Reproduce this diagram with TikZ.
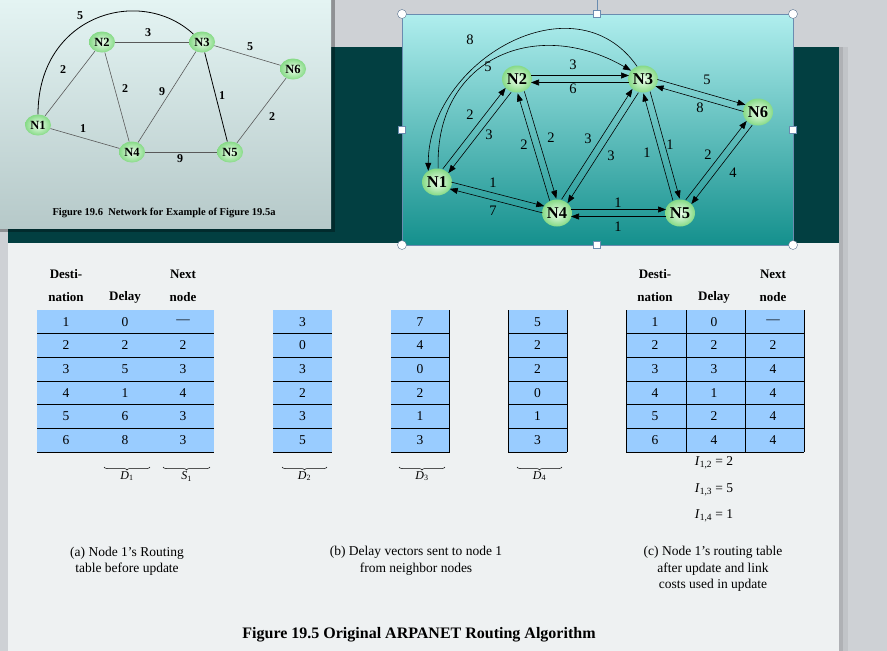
\documentclass[tikz,border=0pt]{standalone}
\usepackage{fontspec}
\setmainfont{Liberation Serif}
\usetikzlibrary{calc,arrows.meta,shapes.geometric,decorations.pathreplacing}

\definecolor{deskgray}{HTML}{CED1D5}
\definecolor{slidelight}{HTML}{EEF1F2}
\definecolor{darkteal}{HTML}{023F41}
\definecolor{cellblue}{HTML}{99CCFF}
\definecolor{frameblue}{HTML}{6A8CB0}
\definecolor{paletop}{HTML}{E4F4F3}
\definecolor{palebot}{HTML}{B6C9C9}
\definecolor{cyantop}{HTML}{B0EEEE}
\definecolor{cyanbot}{HTML}{14908D}
\definecolor{ballin}{HTML}{EEFFEE}
\definecolor{ballout}{HTML}{86DA86}

\tikzset{
  router/.style={ellipse, shading=radial, inner color=ballin, outer color=ballout,
    minimum width=30pt, minimum height=27pt, inner sep=0pt,
    font=\fontsize{16.5}{16.5}\selectfont\bfseries},
  minirouter/.style={router, minimum width=26pt, minimum height=21pt,
    font=\fontsize{12.5}{12.5}\selectfont\bfseries},
  wt/.style={font=\fontsize{14.5}{14.5}\selectfont, inner sep=0pt},
  miniwt/.style={font=\fontsize{12}{12}\selectfont\bfseries, inner sep=0pt},
  bowlink/.style={-{Triangle[length=8pt,width=6pt]}, line width=.6pt},
  link/.style={bowlink, shorten <=14pt, shorten >=14pt},
  wire/.style={gray!70!black, line width=.6pt},
  hdr/.style={font=\fontsize{13}{13}\selectfont\bfseries},
  cell/.style={font=\fontsize{13.5}{13.5}\selectfont},
  subl/.style={font=\fontsize{12}{12}\selectfont, inner sep=0pt},
  captext/.style={font=\fontsize{13.5}{16.5}\selectfont, align=center},
  brc/.style={decorate, decoration={brace, mirror, amplitude=3pt}, line width=.5pt},
  sqhandle/.style={draw=frameblue, fill=white, minimum size=7pt, inner sep=0pt},
  rdhandle/.style={circle, draw=frameblue!80!black, fill=white, minimum size=9pt, inner sep=0pt},
}

\begin{document}
\begin{tikzpicture}[x=1pt,y=1pt]
\useasboundingbox (0,0) rectangle (887,-651);
% desk, slide and its dark band
\fill[deskgray] (0,0) rectangle (887,-651);
\fill[black,opacity=.15] (839,-47) rectangle (843,-651);
\fill[black,opacity=.06] (843,-47) rectangle (848,-651);
\fill[slidelight] (8,-47) rectangle (839,-651);
\fill[darkteal] (8,-47) rectangle (839,-243);

% Figure 19.6 inset
\fill[black,opacity=.3] (0,-228) rectangle (335,-232);
\fill[black,opacity=.3] (331,0) rectangle (335,-228);
\shade[top color=paletop, bottom color=palebot] (0,0) rectangle (331,-228);
\node[minirouter] (L1) at (38,-125) {N1};
\node[minirouter] (L2) at (102,-42) {N2};
\node[minirouter] (L3) at (202,-42) {N3};
\node[minirouter] (L4) at (132,-152) {N4};
\node[minirouter] (L5) at (230,-152) {N5};
\node[minirouter] (L6) at (293,-69) {N6};
\foreach \a/\b in {L1/L2,L2/L3,L2/L4,L3/L4,L3/L6,L5/L6,L1/L4,L4/L5}
  \draw[wire] (\a) -- (\b);
\draw[line width=.8pt] (L3) -- (L5);
\draw[line width=.8pt] (L1) .. controls (38,-15) and (140,15) .. (L3);
\foreach \x/\y/\t [count=\i] in {80/16/5,148/33/3,250/47/5,63/70/2,125/89/2,
    162/92/9,222/96/1,272/117/2,83/129/1,180/159/9}
  \node[miniwt] (lw\i) at (\x,-\y) {\t};
\node[font=\fontsize{10.5}{10.5}\selectfont\bfseries] (fig6) at (164,-213)
  {Figure 19.6\ \ Network for Example of Figure 19.5a};

% delay vectors inset
\shade[top color=cyantop, bottom color=cyanbot] (402,-14) rectangle (793,-245);
\draw[frameblue] (402,-14) rectangle (793,-245);
\node[router] (N1) at (437,-182) {N1};
\node[router] (N2) at (517,-79) {N2};
\node[router] (N3) at (643,-79) {N3};
\node[router] (N4) at (557,-213) {N4};
\node[router] (N5) at (680,-213) {N5};
\node[router] (N6) at (758,-112) {N6};
\foreach \a/\b in {N1/N2,N2/N1,N2/N3,N3/N2,N3/N6,N6/N3,N2/N4,N4/N2,N4/N3,
    N3/N4,N3/N5,N5/N3,N5/N6,N6/N5,N1/N4,N4/N1,N4/N5,N5/N4}
  \draw[link] ($(\a)!3.5pt!90:(\b)$) -- ($(\b)!3.5pt!-90:(\a)$);
\draw[bowlink] (N3.115) to[out=125,in=90,looseness=1.2] (N1.128);
\draw[bowlink] (N1.85) to[out=92,in=150,looseness=1.3] (N3.145);
\foreach \x/\y/\t [count=\i] in {470/40/8,488/67/5,573/65/3,573/89/6,707/80/5,
    700/108/8,470/115/2,489/135/3,524/145/2,551/138/2,588/139/3,611/156/3,
    647/153/1,670/145/1,708/155/2,733/173/4,493/183/1,493/211/7,618/203/1,618/227/1}
  \node[wt] (rw\i) at (\x,-\y) {\t};
% selection handles
\draw[frameblue] (597,0) -- (597,-10.5);
\foreach \x/\y [count=\i] in {402/14,793/14,402/245,793/245}
  \node[rdhandle] (hdc\i) at (\x,-\y) {};
\foreach \x/\y [count=\i] in {597/14,597/245,402/129.5,793/129.5}
  \node[sqhandle] (hds\i) at (\x,-\y) {};

% (a) table before update
\fill[cellblue] (37,-310) rectangle (214,-452);
\foreach \i in {1,...,6}
  \draw (37,{-310-23.67*\i}) -- (214,{-310-23.67*\i});
\foreach \dl/\nx [count=\i] in {0/---,2/2,5/3,1/4,6/3,8/3}
{
\node[cell] (ta\i) at (66,{-321.8-23.67*(\i-1)}) {\i};
\node[cell] (tad\i) at (125,{-321.8-23.67*(\i-1)}) {\dl};
\node[cell] (tan\i) at (183,{-321.8-23.67*(\i-1)}) {\nx};
}
\node[hdr] (ha1) at (66,-274) {Desti-};
\node[hdr] (ha2) at (66,-297) {nation};
\node[hdr] (ha3) at (125,-297) {Delay};
\node[hdr] (ha4) at (183,-274) {Next};
\node[hdr] (ha5) at (183,-297) {node};
\draw[brc] (104,-467) -- (150,-467) node[subl, midway, below=4pt] (lD1) {\textit{D}\textsubscript{1}};
\draw[brc] (163,-467) -- (210,-467) node[subl, midway, below=4pt] (lS1) {\textit{S}\textsubscript{1}};

% (b) delay vectors of the neighbours
\foreach \x in {273,391,508}
{
\fill[cellblue] (\x,-310) rectangle (\x+59,-452);
\foreach \i in {1,...,6}
  \draw (\x,{-310-23.67*\i}) -- (\x+59,{-310-23.67*\i});
}
\draw (449,-310) -- (449,-452);
\draw (508,-310) -- (508,-452);
\draw (567,-310) -- (567,-452);
\foreach \p/\q/\r [count=\i] in {3/7/5,0/4/2,3/0/2,2/2/0,3/1/1,5/3/3}
{
\node[cell] (tb\i) at (302.5,{-321.8-23.67*(\i-1)}) {\p};
\node[cell] (tc\i) at (420,{-321.8-23.67*(\i-1)}) {\q};
\node[cell] (td\i) at (537.5,{-321.8-23.67*(\i-1)}) {\r};
}
\draw[brc] (282,-467) -- (327,-467) node[subl, midway, below=4pt] (lD2) {\textit{D}\textsubscript{2}};
\draw[brc] (399,-467) -- (445,-467) node[subl, midway, below=4pt] (lD3) {\textit{D}\textsubscript{3}};
\draw[brc] (517,-467) -- (562,-467) node[subl, midway, below=4pt] (lD4) {\textit{D}\textsubscript{4}};

% (c) table after update
\fill[cellblue] (626,-310) rectangle (804,-452);
\foreach \i in {1,...,6}
  \draw (626,{-310-23.67*\i}) -- (804,{-310-23.67*\i});
\foreach \x in {626,686,745,804}
  \draw (\x,-310) -- (\x,-452);
\foreach \dl/\nx [count=\i] in {0/---,2/2,3/4,1/4,2/4,4/4}
{
\node[cell] (te\i) at (655,{-321.8-23.67*(\i-1)}) {\i};
\node[cell] (ted\i) at (714,{-321.8-23.67*(\i-1)}) {\dl};
\node[cell] (ten\i) at (773,{-321.8-23.67*(\i-1)}) {\nx};
}
\node[hdr] (hc1) at (655,-274) {Desti-};
\node[hdr] (hc2) at (655,-297) {nation};
\node[hdr] (hc3) at (714,-297) {Delay};
\node[hdr] (hc4) at (773,-274) {Next};
\node[hdr] (hc5) at (773,-297) {node};
\foreach \j/\v/\y in {2/2/463,3/5/490,4/1/516}
  \node[cell] (cost\j) at (714,-\y) {\textit{I}\textsubscript{1,\j} = \v};

% captions
\node[captext] (capa) at (127,-561) {(a) Node 1's Routing\\table before update};
\node[captext] (capb) at (416,-561) {(b) Delay vectors sent to node 1\\from neighbor nodes};
\node[captext] (capc) at (713,-569) {(c) Node 1's routing table\\after update and link\\costs used in update};
\node[font=\fontsize{16}{16}\selectfont\bfseries] (title) at (419,-635)
  {Figure 19.5 Original ARPANET Routing Algorithm};
\end{tikzpicture}
\end{document}
